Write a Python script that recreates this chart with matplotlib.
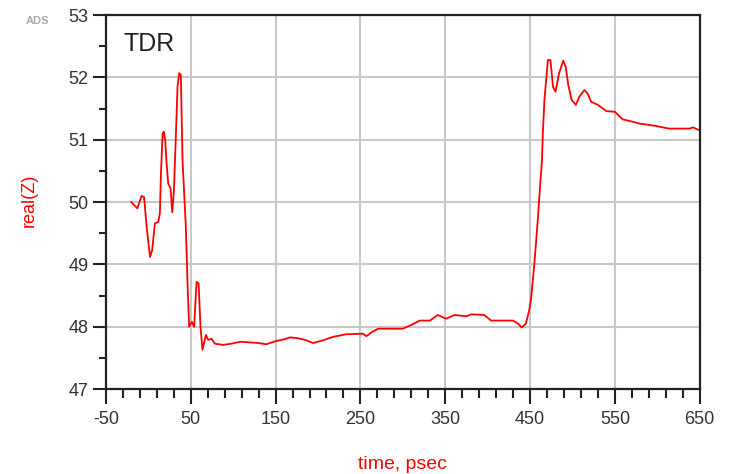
import numpy as np
import matplotlib.pyplot as plt
from matplotlib.ticker import MultipleLocator, FixedLocator

# TDR trace (time in psec, real(Z) in ohm)
t = [-20, -13, -8, -5, -2, 2, 4.5, 7.7, 11.6, 13.6, 14.8, 16.8, 18.3, 19.9, 21.5, 23.4,
     26.2, 28.1, 30.1, 32.4, 34.4, 36.3, 38.3, 40.3, 44.2, 46.2, 48.1, 51.3, 54, 56.8,
     59.2, 61.5, 63.8, 67.8, 70.5, 74.4, 78.4, 88, 98, 108, 120, 130, 139, 150,
     160, 167, 175, 185, 194, 205, 218, 233, 253, 257, 264, 271, 285, 300, 310, 320,
     332, 341, 351, 361, 375, 381, 396, 404, 418, 430, 436, 440, 445, 449, 451, 455,
     459, 462, 464, 465, 467, 471, 474, 477, 480, 484, 489, 492, 495, 499, 504, 508,
     514, 518, 522, 530, 540, 550, 559, 571, 579, 590, 599, 614, 625, 638, 642, 650]
z = [50.0, 49.9, 50.1, 50.08, 49.6, 49.12, 49.23, 49.66, 49.68, 49.82, 50.43, 51.1,
     51.13, 50.99, 50.62, 50.3, 50.22, 49.84, 50.17, 51.05, 51.85, 52.07, 52.04, 50.67,
     49.6, 48.7, 48.0, 48.08, 48.0, 48.72, 48.7, 48.0, 47.63, 47.87, 47.79, 47.81, 47.73,
     47.71, 47.73, 47.76, 47.75, 47.74, 47.72, 47.77, 47.8, 47.83, 47.82, 47.79, 47.74,
     47.78, 47.84, 47.88, 47.89, 47.85, 47.92, 47.97, 47.97, 47.97, 48.03, 48.1, 48.1,
     48.19, 48.13, 48.19, 48.17, 48.2, 48.19, 48.1, 48.1, 48.1, 48.05, 47.99, 48.05,
     48.27, 48.43, 49.0, 49.7, 50.3, 50.67, 51.1, 51.66, 52.28, 52.28, 51.85, 51.77,
     52.06, 52.27, 52.17, 51.88, 51.64, 51.56, 51.69, 51.8, 51.74, 51.61, 51.56, 51.46,
     51.45, 51.33, 51.29, 51.26, 51.24, 51.22, 51.18, 51.18, 51.18, 51.2, 51.15]

red = '#ff0000'
plt.rcParams['font.family'] = ['Liberation Sans', 'DejaVu Sans']
plt.rcParams['axes.unicode_minus'] = False

fig = plt.figure(figsize=(7.46, 4.74), dpi=100)
ax = fig.add_axes([0.142, 0.179, 0.796, 0.789])

ax.plot(t, z, color=red, lw=1.3)

ax.set_xlim(-50, 650)
ax.set_ylim(47, 53)
ax.xaxis.set_major_locator(FixedLocator(np.arange(-50, 651, 100)))
ax.xaxis.set_minor_locator(FixedLocator(np.arange(-50, 651, 20)))
ax.yaxis.set_major_locator(MultipleLocator(1))
ax.yaxis.set_minor_locator(MultipleLocator(0.5))
ax.grid(True, which='major', color='#c8c8c8', lw=1.5)
ax.set_axisbelow(True)

for s in ax.spines.values():
    s.set_color('#222222')
    s.set_linewidth(1.6)

ax.tick_params(axis='both', which='major', labelsize=13, labelcolor='#333333',
               color='#222222', width=1.5)
ax.tick_params(axis='y', which='major', length=9.5, pad=3)
ax.tick_params(axis='y', which='minor', length=5, width=1.5, color='#222222')
ax.tick_params(axis='x', which='major', length=11, pad=5)
ax.tick_params(axis='x', which='minor', length=6.5, width=1.5, color='#222222')

ax.set_xlabel('time, psec', color=red, fontsize=14, labelpad=20)
ax.set_ylabel('real(Z)', color=red, fontsize=13)
ax.yaxis.set_label_coords(-0.114, 0.505)

ax.text(0.03, 0.955, 'TDR', transform=ax.transAxes, fontsize=18, color='#222222',
        va='top', ha='left')
fig.text(0.034, 0.955, 'ADS', fontsize=8, color='#aaaaaa', fontweight='bold', va='center')

fig.savefig('out.png', dpi=100)
